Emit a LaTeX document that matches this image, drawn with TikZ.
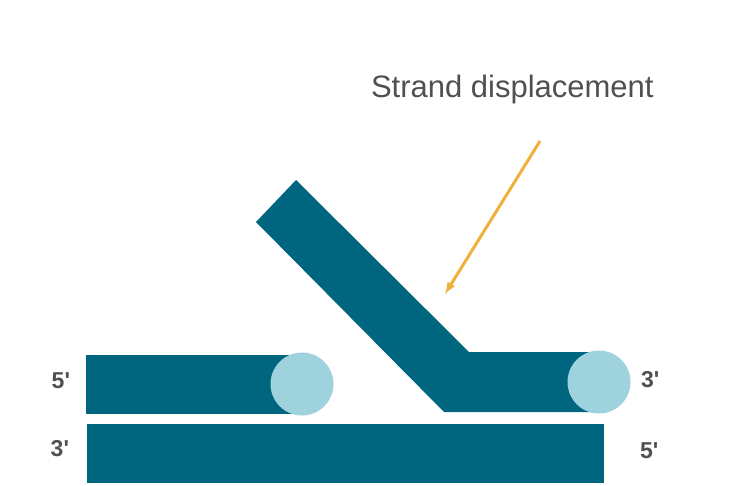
\documentclass[tikz,border=0pt]{standalone}
\usepackage{fontspec}
\setmainfont{Liberation Sans}
\usetikzlibrary{positioning}
\definecolor{strand}{HTML}{006680}
\definecolor{capfill}{HTML}{9ED3DE}
\definecolor{labelgray}{HTML}{505050}
\definecolor{arrowgold}{HTML}{F0B03C}

\begin{document}
\begin{tikzpicture}[x=1pt, y=-1pt, every node/.style={inner sep=0pt, outer sep=0pt},
	strandbox/.style={fill=strand, minimum height=59pt},
	capdot/.style={circle, fill=capfill, minimum size=63pt},
	endlabel/.style={text=labelgray, font=\fontsize{23}{25}\selectfont\bfseries}]

	\useasboundingbox (0,0) rectangle (730,485);

	\node[strandbox, minimum width=517pt] (bottom) at (345.5,453.5) {};
	\node[strandbox, minimum width=216pt] (upper) at (194,384.5) {};
	\fill[strand] (256,222) -- (296,180) -- (469,352) -- (599,352) -- (599,412) -- (444,412) -- cycle;
	\node[capdot] (capleft) at (302,384) {};
	\node[capdot] (capright) at (599,382) {};

	\node[endlabel, anchor=east] (fiveleft) at (70,381) {5\textquotesingle};
	\node[endlabel, anchor=east] (threeleft) at (69,449) {3\textquotesingle};
	\node[endlabel, anchor=west] (threeright) at (641,380) {3\textquotesingle};
	\node[endlabel, anchor=west] (fiveright) at (640,451) {5\textquotesingle};

	\node[text=labelgray, font=\fontsize{31}{33}\selectfont, anchor=base west] (title) at (371,97) {Strand displacement};
	\coordinate (tail) at (540,141);
	\coordinate (tip) at (445,294);
\draw[->, >=latex, line width=3pt, arrowgold] (tail) to (tip);
\end{tikzpicture}
\end{document}
